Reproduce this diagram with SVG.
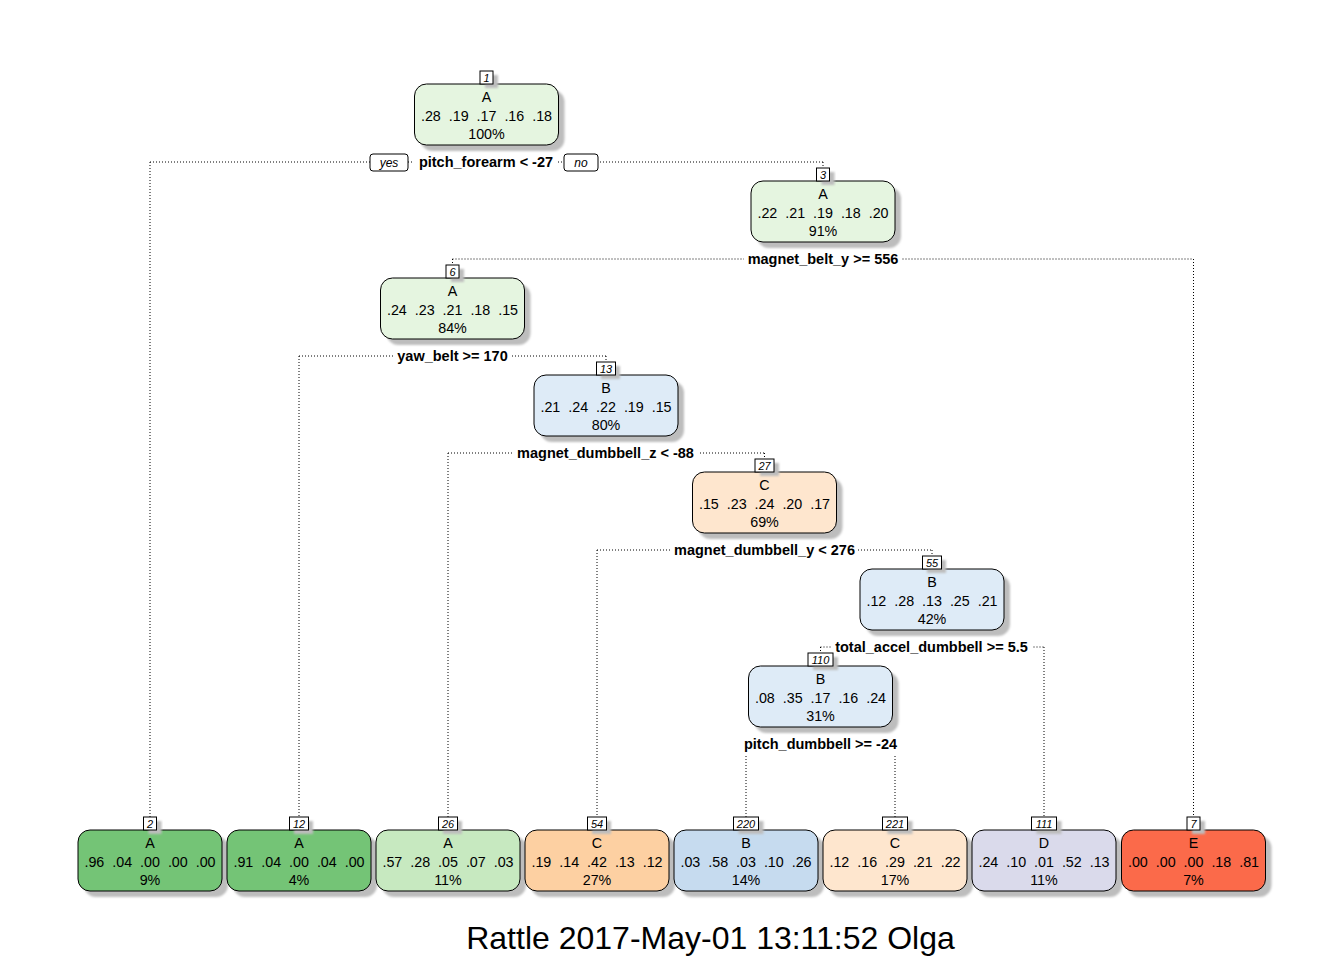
<svg xmlns="http://www.w3.org/2000/svg" width="1344" height="960" viewBox="0 0 1344 960">
<defs>
<filter id="blur" x="-10%" y="-10%" width="120%" height="130%"><feGaussianBlur stdDeviation="1.2"/></filter>
<style>
.sh{fill:#bdbdbd;filter:url(#blur)}
.bx{stroke:#000;stroke-width:1}
.lb{fill:#fff;stroke:#000;stroke-width:1}
.t{font-family:"Liberation Sans",Arial,sans-serif;font-size:14.3px;text-anchor:middle;fill:#000;white-space:pre}
.n{font-family:"Liberation Sans",Arial,sans-serif;font-size:11px;font-style:italic;text-anchor:middle;fill:#000}
.s{font-family:"Liberation Sans",Arial,sans-serif;font-size:14.5px;font-weight:bold;text-anchor:middle;fill:#000}
.yn{font-family:"Liberation Sans",Arial,sans-serif;font-size:12px;font-style:italic;text-anchor:middle;fill:#000}
.ln{stroke:#000;stroke-width:1;stroke-dasharray:1 2;fill:none}
.bg{fill:#fff}
.ti{font-family:"Liberation Sans",Arial,sans-serif;font-size:32px;text-anchor:middle;fill:#000}
</style>
</defs>
<rect width="1344" height="960" fill="#fff"/>

<g id="connectors">
<path class="ln" d="M150 162H823M150 162V817M823 162V168"/>
<path class="ln" d="M452.5 259H1193.5M452.5 259V265M1193.5 259V817"/>
<path class="ln" d="M299 356H606M299 356V817M606 356V362"/>
<path class="ln" d="M448 453H764.5M448 453V817M764.5 453V459"/>
<path class="ln" d="M597 550H932M597 550V817M932 550V556"/>
<path class="ln" d="M820.5 647H1044M820.5 647V653M1044 647V817"/>
<path class="ln" d="M746 744H895M746 744V817M895 744V817"/>
<rect class="bg" x="414" y="152" width="144" height="19"/>
<rect class="bg" x="744" y="249" width="158" height="19"/>
<rect class="bg" x="394" y="346" width="117" height="19"/>
<rect class="bg" x="513" y="443" width="185" height="19"/>
<rect class="bg" x="671" y="540" width="187" height="19"/>
<rect class="bg" x="831" y="637" width="201" height="15"/>
<rect class="bg" x="738" y="734" width="165" height="21"/>
<text class="s" x="486" y="167">pitch_forearm &lt; -27</text>
<text class="s" x="823" y="264">magnet_belt_y &gt;= 556</text>
<text class="s" x="452.5" y="361">yaw_belt &gt;= 170</text>
<text class="s" x="605.5" y="458">magnet_dumbbell_z &lt; -88</text>
<text class="s" x="764.5" y="555">magnet_dumbbell_y &lt; 276</text>
<text class="s" x="931.5" y="652">total_accel_dumbbell &gt;= 5.5</text>
<text class="s" x="820.5" y="749">pitch_dumbbell &gt;= -24</text>
<rect class="lb" x="370" y="154" width="38" height="17" rx="3"/>
<text class="yn" x="389" y="167">yes</text>
<rect class="lb" x="564" y="154" width="34" height="17" rx="3"/>
<text class="yn" x="581" y="167">no</text>
</g>

<g id="node1">
<rect class="sh" x="420.5" y="90" width="144" height="61" rx="12"/>
<rect class="bx" x="414.5" y="84" width="144" height="61" rx="12" fill="#E5F5E0"/>
<rect class="sh" x="485" y="75" width="13" height="13"/>
<rect class="lb" x="480" y="71" width="13" height="13"/>
<text class="n" x="486.5" y="81.5">1</text>
<text class="t" x="486.5" y="102">A</text>
<text class="t" x="486.5" y="121">.28  .19  .17  .16  .18</text>
<text class="t" x="486.5" y="139">100%</text>
</g>

<g id="node3">
<rect class="sh" x="757" y="187" width="144" height="61" rx="12"/>
<rect class="bx" x="751" y="181" width="144" height="61" rx="12" fill="#E5F5E0"/>
<rect class="sh" x="821.5" y="172" width="13" height="13"/>
<rect class="lb" x="816.5" y="168" width="13" height="13"/>
<text class="n" x="823" y="178.5">3</text>
<text class="t" x="823" y="199">A</text>
<text class="t" x="823" y="218">.22  .21  .19  .18  .20</text>
<text class="t" x="823" y="236">91%</text>
</g>

<g id="node6">
<rect class="sh" x="386.5" y="284" width="144" height="61" rx="12"/>
<rect class="bx" x="380.5" y="278" width="144" height="61" rx="12" fill="#E5F5E0"/>
<rect class="sh" x="451" y="269" width="13" height="13"/>
<rect class="lb" x="446" y="265" width="13" height="13"/>
<text class="n" x="452.5" y="275.5">6</text>
<text class="t" x="452.5" y="296">A</text>
<text class="t" x="452.5" y="315">.24  .23  .21  .18  .15</text>
<text class="t" x="452.5" y="333">84%</text>
</g>

<g id="node13">
<rect class="sh" x="540" y="381" width="144" height="61" rx="12"/>
<rect class="bx" x="534" y="375" width="144" height="61" rx="12" fill="#DEEBF7"/>
<rect class="sh" x="601" y="366" width="19" height="13"/>
<rect class="lb" x="596.5" y="362" width="19" height="13"/>
<text class="n" x="606" y="372.5">13</text>
<text class="t" x="606" y="393">B</text>
<text class="t" x="606" y="412">.21  .24  .22  .19  .15</text>
<text class="t" x="606" y="430">80%</text>
</g>

<g id="node27">
<rect class="sh" x="698.5" y="478" width="144" height="61" rx="12"/>
<rect class="bx" x="692.5" y="472" width="144" height="61" rx="12" fill="#FEE6CE"/>
<rect class="sh" x="760" y="463" width="19" height="13"/>
<rect class="lb" x="755" y="459" width="19" height="13"/>
<text class="n" x="764.5" y="469.5">27</text>
<text class="t" x="764.5" y="490">C</text>
<text class="t" x="764.5" y="509">.15  .23  .24  .20  .17</text>
<text class="t" x="764.5" y="527">69%</text>
</g>

<g id="node55">
<rect class="sh" x="866" y="575" width="144" height="61" rx="12"/>
<rect class="bx" x="860" y="569" width="144" height="61" rx="12" fill="#DEEBF7"/>
<rect class="sh" x="927" y="560" width="19" height="13"/>
<rect class="lb" x="922.5" y="556" width="19" height="13"/>
<text class="n" x="932" y="566.5">55</text>
<text class="t" x="932" y="587">B</text>
<text class="t" x="932" y="606">.12  .28  .13  .25  .21</text>
<text class="t" x="932" y="624">42%</text>
</g>

<g id="node110">
<rect class="sh" x="754.5" y="672" width="144" height="61" rx="12"/>
<rect class="bx" x="748.5" y="666" width="144" height="61" rx="12" fill="#DEEBF7"/>
<rect class="sh" x="813" y="657" width="25" height="13"/>
<rect class="lb" x="808" y="653" width="25" height="13"/>
<text class="n" x="820.5" y="663.5">110</text>
<text class="t" x="820.5" y="684">B</text>
<text class="t" x="820.5" y="703">.08  .35  .17  .16  .24</text>
<text class="t" x="820.5" y="721">31%</text>
</g>

<g id="node2">
<rect class="sh" x="84" y="836" width="144" height="61" rx="12"/>
<rect class="bx" x="78" y="830" width="144" height="61" rx="12" fill="#74C476"/>
<rect class="sh" x="148.5" y="821" width="13" height="13"/>
<rect class="lb" x="143.5" y="817" width="13" height="13"/>
<text class="n" x="150" y="827.5">2</text>
<text class="t" x="150" y="848">A</text>
<text class="t" x="150" y="867">.96  .04  .00  .00  .00</text>
<text class="t" x="150" y="885">9%</text>
</g>

<g id="node12">
<rect class="sh" x="233" y="836" width="144" height="61" rx="12"/>
<rect class="bx" x="227" y="830" width="144" height="61" rx="12" fill="#74C476"/>
<rect class="sh" x="294" y="821" width="19" height="13"/>
<rect class="lb" x="289.5" y="817" width="19" height="13"/>
<text class="n" x="299" y="827.5">12</text>
<text class="t" x="299" y="848">A</text>
<text class="t" x="299" y="867">.91  .04  .00  .04  .00</text>
<text class="t" x="299" y="885">4%</text>
</g>

<g id="node26">
<rect class="sh" x="382" y="836" width="144" height="61" rx="12"/>
<rect class="bx" x="376" y="830" width="144" height="61" rx="12" fill="#C7E9C0"/>
<rect class="sh" x="443" y="821" width="19" height="13"/>
<rect class="lb" x="438.5" y="817" width="19" height="13"/>
<text class="n" x="448" y="827.5">26</text>
<text class="t" x="448" y="848">A</text>
<text class="t" x="448" y="867">.57  .28  .05  .07  .03</text>
<text class="t" x="448" y="885">11%</text>
</g>

<g id="node54">
<rect class="sh" x="531" y="836" width="144" height="61" rx="12"/>
<rect class="bx" x="525" y="830" width="144" height="61" rx="12" fill="#FDD0A2"/>
<rect class="sh" x="592" y="821" width="19" height="13"/>
<rect class="lb" x="587.5" y="817" width="19" height="13"/>
<text class="n" x="597" y="827.5">54</text>
<text class="t" x="597" y="848">C</text>
<text class="t" x="597" y="867">.19  .14  .42  .13  .12</text>
<text class="t" x="597" y="885">27%</text>
</g>

<g id="node220">
<rect class="sh" x="680" y="836" width="144" height="61" rx="12"/>
<rect class="bx" x="674" y="830" width="144" height="61" rx="12" fill="#C6DBEF"/>
<rect class="sh" x="738.5" y="821" width="25" height="13"/>
<rect class="lb" x="733.5" y="817" width="25" height="13"/>
<text class="n" x="746" y="827.5">220</text>
<text class="t" x="746" y="848">B</text>
<text class="t" x="746" y="867">.03  .58  .03  .10  .26</text>
<text class="t" x="746" y="885">14%</text>
</g>

<g id="node221">
<rect class="sh" x="829" y="836" width="144" height="61" rx="12"/>
<rect class="bx" x="823" y="830" width="144" height="61" rx="12" fill="#FEE6CE"/>
<rect class="sh" x="887.5" y="821" width="25" height="13"/>
<rect class="lb" x="882.5" y="817" width="25" height="13"/>
<text class="n" x="895" y="827.5">221</text>
<text class="t" x="895" y="848">C</text>
<text class="t" x="895" y="867">.12  .16  .29  .21  .22</text>
<text class="t" x="895" y="885">17%</text>
</g>

<g id="node111">
<rect class="sh" x="978" y="836" width="144" height="61" rx="12"/>
<rect class="bx" x="972" y="830" width="144" height="61" rx="12" fill="#DADAEB"/>
<rect class="sh" x="1036.5" y="821" width="25" height="13"/>
<rect class="lb" x="1031.5" y="817" width="25" height="13"/>
<text class="n" x="1044" y="827.5">111</text>
<text class="t" x="1044" y="848">D</text>
<text class="t" x="1044" y="867">.24  .10  .01  .52  .13</text>
<text class="t" x="1044" y="885">11%</text>
</g>

<g id="node7">
<rect class="sh" x="1127.5" y="836" width="144" height="61" rx="12"/>
<rect class="bx" x="1121.5" y="830" width="144" height="61" rx="12" fill="#FB6A4A"/>
<rect class="sh" x="1192" y="821" width="13" height="13"/>
<rect class="lb" x="1187" y="817" width="13" height="13"/>
<text class="n" x="1193.5" y="827.5">7</text>
<text class="t" x="1193.5" y="848">E</text>
<text class="t" x="1193.5" y="867">.00  .00  .00  .18  .81</text>
<text class="t" x="1193.5" y="885">7%</text>
</g>

<text class="ti" x="710.5" y="949">Rattle 2017-May-01 13:11:52 Olga</text>
</svg>
